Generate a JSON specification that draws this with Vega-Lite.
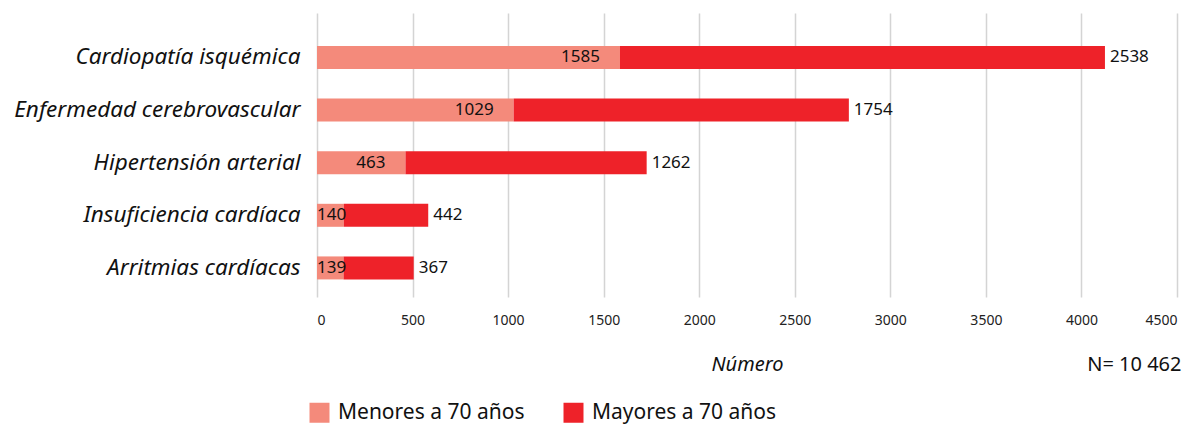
{
  "$schema": "https://vega.github.io/schema/vega-lite/v6.json",
  "width": 860,
  "height": 284,
  "autosize": {"type": "none"},
  "padding": {"left": 317, "top": 13, "right": 17, "bottom": 127},
  "background": "white",
  "config": {"view": {"stroke": null}, "font": "Noto Sans"},
  "data": {
    "values": [
      {"cat": "Cardiopatía isquémica", "group": "Menores a 70 años", "value": 1585},
      {"cat": "Cardiopatía isquémica", "group": "Mayores a 70 años", "value": 2538},
      {"cat": "Enfermedad cerebrovascular", "group": "Menores a 70 años", "value": 1029},
      {"cat": "Enfermedad cerebrovascular", "group": "Mayores a 70 años", "value": 1754},
      {"cat": "Hipertensión arterial", "group": "Menores a 70 años", "value": 463},
      {"cat": "Hipertensión arterial", "group": "Mayores a 70 años", "value": 1262},
      {"cat": "Insuficiencia cardíaca", "group": "Menores a 70 años", "value": 140},
      {"cat": "Insuficiencia cardíaca", "group": "Mayores a 70 años", "value": 442},
      {"cat": "Arritmias cardíacas", "group": "Menores a 70 años", "value": 139},
      {"cat": "Arritmias cardíacas", "group": "Mayores a 70 años", "value": 367}
    ]
  },
  "encoding": {
    "y": {
      "field": "cat",
      "type": "nominal",
      "sort": null,
      "scale": {"paddingInner": 0.563, "paddingOuter": 0.48, "align": 0.652},
      "axis": {
        "title": null,
        "ticks": false,
        "domain": false,
        "labelPadding": 17,
        "labelFontSize": 22.5,
        "labelFontStyle": "italic",
        "labelColor": "#111111",
        "labelLimit": 400
      }
    }
  },
  "layer": [
    {
      "mark": {"type": "bar"},
      "encoding": {
        "x": {
          "field": "value",
          "type": "quantitative",
          "stack": "zero",
          "scale": {"domain": [0, 4500], "nice": false},
          "axis": {
            "orient": "bottom",
            "values": [0, 500, 1000, 1500, 2000, 2500, 3000, 3500, 4000, 4500],
            "format": "d",
            "domain": false,
            "ticks": false,
            "grid": true,
            "gridColor": "#d4d4d4",
            "gridWidth": 1.5,
            "labelFontSize": 14,
            "labelColor": "#222222",
            "labelPadding": 16,
            "title": "Número",
            "titleFontSize": 20,
            "titleFontStyle": "italic",
            "titleFontWeight": "normal",
            "titleColor": "#111111",
            "titleY": 67,
            "titleBaseline": "middle"
          }
        },
        "order": {"field": "group", "sort": "descending"},
        "color": {
          "field": "group",
          "type": "nominal",
          "sort": ["Menores a 70 años", "Mayores a 70 años"],
          "scale": {"domain": ["Menores a 70 años", "Mayores a 70 años"], "range": ["#F48A7B", "#EE2229"]},
          "legend": {
            "title": null,
            "orient": "none",
            "legendX": -8,
            "legendY": 389,
            "direction": "horizontal",
            "symbolType": "square",
            "symbolSize": 400,
            "symbolStrokeWidth": 0,
            "labelFontSize": 21,
            "labelColor": "#111111",
            "labelOffset": 8,
            "columnPadding": 38,
            "labelLimit": 400
          }
        }
      }
    },
    {
      "transform": [{"filter": "datum.group == 'Menores a 70 años' && datum.value >= 400"}],
      "mark": {"type": "text", "align": "right", "baseline": "middle", "dx": -20, "fontSize": 17, "color": "#111111"},
      "encoding": {
        "x": {"field": "value", "type": "quantitative", "axis": null},
        "text": {"field": "value", "type": "quantitative"}
      }
    },
    {
      "transform": [{"filter": "datum.group == 'Menores a 70 años' && datum.value < 400"}],
      "mark": {"type": "text", "align": "left", "baseline": "middle", "dx": 0, "fontSize": 17, "color": "#111111"},
      "encoding": {
        "x": {"datum": 0, "type": "quantitative", "axis": null},
        "text": {"field": "value", "type": "quantitative"}
      }
    },
    {
      "transform": [
        {"joinaggregate": [{"op": "sum", "field": "value", "as": "total"}], "groupby": ["cat"]},
        {"filter": "datum.group == 'Mayores a 70 años'"}
      ],
      "mark": {"type": "text", "align": "left", "baseline": "middle", "dx": 5, "fontSize": 17, "color": "#111111"},
      "encoding": {
        "x": {
          "field": "total",
          "type": "quantitative",
          "axis": {
            "orient": "bottom",
            "labels": false,
            "ticks": false,
            "domain": false,
            "grid": false,
            "title": "N= 10 462",
            "titleAnchor": "end",
            "titleFontSize": 20,
            "titleFontWeight": "normal",
            "titleColor": "#111111",
            "titleY": 67,
            "titleBaseline": "middle",
            "titleX": 864,
            "titleAlign": "right"
          }
        },
        "text": {"field": "value", "type": "quantitative"}
      }
    }
  ],
  "resolve": {"axis": {"x": "independent"}}
}
